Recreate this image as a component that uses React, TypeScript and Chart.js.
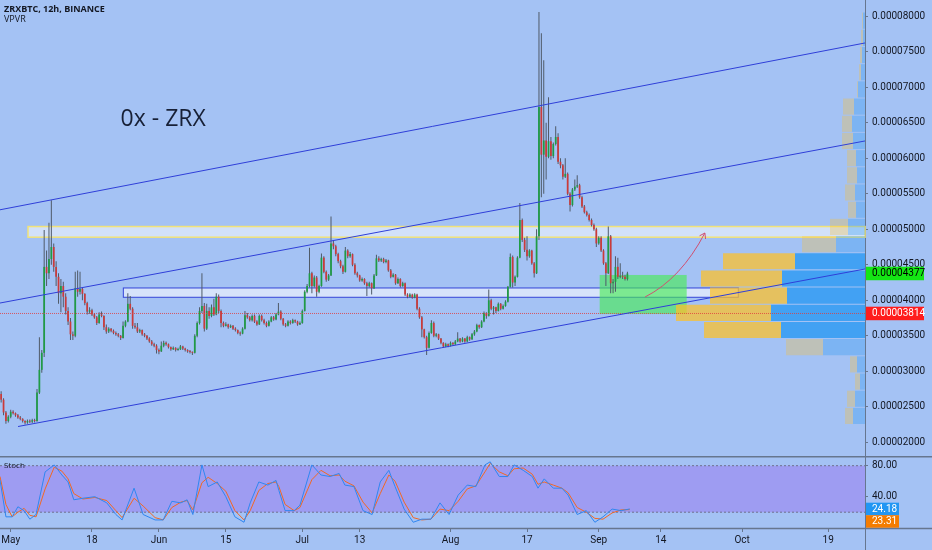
import { useEffect, useRef } from "react"
import Chart from "chart.js/auto"

const WIDTH = 932
const MAIN_H = 456
const STOCH_H = 94
const AXIS_W = 67
const BG = "#a4c2f4"
const TEXT = "#131722"
const AXIS_LINE = "#66768f"
const FONT = "Roboto, 'Open Sans', sans-serif"

// time axis in days counted from 1 May, one candle every 12h
const firstCandleDay = -2
const dayMin = -2.24
const dayMax = 178.7
const dayTicks = [0, 17, 31, 45, 61, 73, 92, 108, 123, 136, 153, 171]
const dayLabels = ["May", "18", "Jun", "15", "Jul", "13", "Aug", "17", "Sep", "14", "Oct", "19"]

// prices are in satoshi (1e-8 BTC)
const priceMin = 1807
const priceMax = 8228
const priceTicks = [2000, 2500, 3000, 3500, 4000, 4500, 5000, 5500, 6000, 6500, 7000, 7500, 8000]

// ZRXBTC 12h candles: [open, high, low, close]
const ohlc = [
  [2680, 2720, 2560, 2600], [2600, 2620, 2380, 2420], [2420, 2440, 2260, 2300], [2300, 2380, 2280, 2360], [2360, 2460, 2340, 2430],
  [2430, 2450, 2390, 2410], [2410, 2420, 2360, 2380], [2380, 2400, 2330, 2350], [2350, 2370, 2310, 2330], [2330, 2340, 2280, 2300],
  [2300, 2310, 2250, 2280], [2280, 2320, 2260, 2300], [2300, 2320, 2270, 2290], [2290, 2330, 2270, 2310], [2310, 2330, 2280, 2300],
  [2300, 2750, 2290, 2700], [2700, 3480, 2680, 3020], [3020, 3300, 2980, 3260], [3260, 4990, 3200, 4470], [4470, 4700, 4200, 4380],
  [4380, 5090, 4300, 4580], [4580, 5410, 4500, 4750], [4750, 4800, 4400, 4470], [4470, 4550, 4200, 4330], [4330, 4380, 3950, 4100],
  [4100, 4300, 3830, 4200], [4200, 4260, 3900, 4050], [4050, 4100, 3800, 3850], [3850, 3900, 3650, 3700], [3700, 3750, 3440, 3520],
  [3520, 3560, 3440, 3500], [3500, 4400, 3480, 4170], [4170, 4420, 4050, 4120], [4120, 4400, 4080, 4160], [4160, 4180, 4000, 4090],
  [4090, 4100, 3930, 3960], [3960, 3980, 3800, 3840], [3840, 3900, 3810, 3860], [3860, 3880, 3780, 3800], [3800, 3820, 3740, 3760],
  [3760, 3780, 3650, 3680], [3680, 3830, 3670, 3800], [3800, 3840, 3760, 3780], [3780, 3790, 3580, 3620], [3620, 3660, 3530, 3560],
  [3560, 3620, 3540, 3600], [3600, 3610, 3550, 3570], [3570, 3590, 3520, 3540], [3540, 3560, 3500, 3520], [3520, 3540, 3480, 3500],
  [3500, 3510, 3440, 3470], [3470, 3700, 3460, 3640], [3640, 3720, 3620, 3700], [3700, 4100, 3690, 3950], [3950, 4060, 3860, 3880],
  [3880, 3900, 3600, 3640], [3640, 3680, 3600, 3620], [3620, 3680, 3540, 3560], [3560, 3600, 3540, 3580], [3580, 3590, 3500, 3520],
  [3520, 3540, 3480, 3500], [3500, 3510, 3440, 3460], [3460, 3480, 3400, 3420], [3420, 3440, 3360, 3380], [3380, 3400, 3340, 3360],
  [3360, 3380, 3250, 3300], [3300, 3320, 3240, 3280], [3280, 3420, 3270, 3360], [3360, 3430, 3340, 3400], [3400, 3420, 3360, 3380],
  [3380, 3390, 3320, 3340], [3340, 3350, 3290, 3310], [3310, 3350, 3300, 3330], [3330, 3340, 3280, 3300], [3300, 3330, 3290, 3310],
  [3310, 3370, 3300, 3350], [3350, 3360, 3300, 3320], [3320, 3330, 3280, 3300], [3300, 3310, 3260, 3280], [3280, 3300, 3250, 3270],
  [3270, 3280, 3230, 3260], [3260, 3520, 3250, 3500], [3500, 3700, 3480, 3680], [3680, 3900, 3660, 3850], [3850, 4380, 3820, 3920],
  [3920, 3960, 3560, 3600], [3600, 3950, 3580, 3850], [3850, 3900, 3740, 3780], [3780, 3940, 3760, 3900], [3900, 4020, 3780, 3800],
  [3800, 4100, 3790, 4050], [4050, 4080, 3820, 3850], [3850, 3870, 3620, 3680], [3680, 3700, 3620, 3640], [3640, 3690, 3630, 3660],
  [3660, 3670, 3600, 3620], [3620, 3660, 3610, 3640], [3640, 3650, 3580, 3600], [3600, 3620, 3560, 3580], [3580, 3590, 3520, 3540],
  [3540, 3560, 3500, 3530], [3530, 3620, 3520, 3600], [3600, 3850, 3590, 3790], [3790, 3820, 3740, 3760], [3760, 3780, 3700, 3720],
  [3720, 3800, 3700, 3780], [3780, 3800, 3680, 3700], [3700, 3720, 3640, 3660], [3660, 3800, 3650, 3780], [3780, 3800, 3700, 3720],
  [3720, 3740, 3660, 3680], [3680, 3700, 3620, 3640], [3640, 3720, 3630, 3700], [3700, 3780, 3690, 3760], [3760, 3780, 3710, 3730],
  [3730, 3820, 3720, 3800], [3800, 3960, 3790, 3840], [3840, 3860, 3720, 3740], [3740, 3750, 3640, 3660], [3660, 3680, 3620, 3640],
  [3640, 3720, 3630, 3700], [3700, 3720, 3660, 3680], [3680, 3740, 3670, 3720], [3720, 3730, 3680, 3700], [3700, 3710, 3640, 3660],
  [3660, 3700, 3650, 3680], [3680, 3870, 3670, 3850], [3850, 4140, 3840, 4120], [4120, 4230, 4100, 4200], [4200, 4740, 4180, 4380],
  [4380, 4400, 4100, 4200], [4200, 4350, 4180, 4320], [4320, 4340, 4050, 4120], [4120, 4220, 4100, 4200], [4200, 4660, 4190, 4600],
  [4600, 4620, 4380, 4400], [4400, 4420, 4260, 4290], [4290, 4370, 4270, 4350], [4350, 5180, 4340, 4800], [4800, 4840, 4720, 4760],
  [4760, 4780, 4620, 4650], [4650, 4670, 4520, 4550], [4550, 4570, 4450, 4480], [4480, 4500, 4370, 4400], [4400, 4750, 4390, 4700],
  [4700, 4720, 4590, 4620], [4620, 4680, 4600, 4650], [4650, 4660, 4480, 4500], [4500, 4520, 4360, 4380], [4380, 4400, 4320, 4350],
  [4350, 4360, 4260, 4280], [4280, 4320, 4260, 4300], [4300, 4310, 4220, 4240], [4240, 4260, 4060, 4200], [4200, 4260, 4180, 4240],
  [4240, 4250, 4080, 4170], [4170, 4370, 4160, 4350], [4350, 4640, 4340, 4590], [4590, 4620, 4540, 4560], [4560, 4600, 4540, 4580],
  [4580, 4600, 4520, 4540], [4540, 4580, 4520, 4560], [4560, 4570, 4400, 4420], [4420, 4440, 4310, 4330], [4330, 4380, 4320, 4360],
  [4360, 4370, 4220, 4240], [4240, 4320, 4230, 4300], [4300, 4310, 4180, 4200], [4200, 4260, 4190, 4240], [4240, 4250, 4060, 4080],
  [4080, 4100, 4030, 4050], [4050, 4100, 4040, 4080], [4080, 4090, 4020, 4040], [4040, 4100, 4030, 4080], [4080, 4090, 3860, 3880],
  [3880, 3900, 3740, 3760], [3760, 3780, 3480, 3590], [3590, 3600, 3460, 3480], [3480, 3500, 3230, 3330], [3330, 3560, 3320, 3540],
  [3540, 3720, 3530, 3680], [3680, 3700, 3480, 3500], [3500, 3540, 3480, 3520], [3520, 3530, 3440, 3460], [3460, 3470, 3380, 3400],
  [3400, 3410, 3330, 3350], [3350, 3400, 3340, 3380], [3380, 3390, 3340, 3360], [3360, 3420, 3350, 3400], [3400, 3410, 3360, 3380],
  [3380, 3440, 3370, 3420], [3420, 3550, 3410, 3460], [3460, 3470, 3400, 3420], [3420, 3480, 3410, 3460], [3460, 3470, 3400, 3420],
  [3420, 3500, 3410, 3480], [3480, 3490, 3430, 3450], [3450, 3540, 3440, 3520], [3520, 3580, 3500, 3560], [3560, 3670, 3550, 3650],
  [3650, 3660, 3600, 3620], [3620, 3720, 3610, 3700], [3700, 3840, 3690, 3820], [3820, 3830, 3740, 3780], [3780, 4150, 3770, 4000],
  [4000, 4020, 3860, 3880], [3880, 3920, 3800, 3900], [3900, 3910, 3820, 3850], [3850, 3970, 3840, 3950], [3950, 3960, 3860, 3880],
  [3880, 3940, 3870, 3920], [3920, 4000, 3910, 3980], [3980, 4200, 3970, 4190], [4190, 4660, 4180, 4610], [4610, 4630, 4180, 4250],
  [4250, 4350, 4200, 4330], [4330, 4620, 4320, 4600], [4600, 5370, 4590, 5130], [5130, 5150, 4820, 4850], [4850, 4880, 4680, 4710],
  [4710, 4900, 4560, 4620], [4620, 4720, 4600, 4700], [4700, 4710, 4500, 4520], [4520, 4540, 4320, 4380], [4380, 5000, 4370, 4900],
  [4900, 8060, 4850, 6720], [6720, 7760, 5450, 6050], [6050, 7380, 5500, 6250], [6250, 6500, 5700, 6020], [6020, 6860, 6000, 6240],
  [6240, 6300, 5980, 6030], [6030, 6220, 6000, 6200], [6200, 6450, 6180, 6300], [6300, 6350, 5920, 5950], [5950, 6000, 5860, 5900],
  [5900, 5920, 5700, 5740], [5740, 6000, 5720, 5780], [5780, 5800, 5480, 5500], [5500, 5520, 5250, 5340], [5340, 5580, 5320, 5560],
  [5560, 5700, 5540, 5600], [5600, 5760, 5580, 5620], [5620, 5640, 5430, 5450], [5450, 5470, 5300, 5320], [5320, 5340, 5220, 5240],
  [5240, 5260, 5180, 5200], [5200, 5220, 5110, 5130], [5130, 5150, 5040, 5060], [5060, 5080, 4980, 5000], [5000, 5020, 4750, 4800],
  [4800, 4900, 4780, 4880], [4880, 4900, 4680, 4700], [4700, 4720, 4500, 4520], [4520, 4540, 4200, 4380], [4380, 5040, 4370, 4900],
  [4900, 4920, 4100, 4240], [4240, 4300, 4100, 4260], [4260, 4620, 4120, 4470], [4470, 4600, 4300, 4330], [4330, 4520, 4310, 4340],
  [4340, 4400, 4300, 4330], [4330, 4360, 4280, 4300], [4300, 4400, 4280, 4377],
]

const markPrice = 3814

// drawn channel: [day, price] end points
const channelUpper = [[-2.24, 5274], [178.7, 7623]]
const channelMiddle = [[-2.24, 3961], [178.7, 6243]]
const channelLower = [[1.53, 2222], [178.7, 4440]]

// drawn zones: [fromDay, toDay, lowPrice, highPrice]
const resistanceZone = [3.62, 178.7, 4888, 5038]
const supportZone = [23.56, 152.2, 4042, 4173]
const targetZone = [123.2, 141.4, 3806, 4356]

// curved arrow: start, bend, end as [day, price]
const arrowPath = [[132.7, 4046], [140.2, 4304], [145.2, 4947]]

// title note: [day, price]
const titleAt = [31.9, 6542]

// volume profile rows of 242 sat from 2250 upward
const vpLow = 2250
const vpStep = 242
const vpUp = [12, 10, 5, 8, 42, 84, 94, 78, 83, 70, 29, 17, 9, 10, 8, 9, 12, 13, 11, 7, 4, 3, 2, 2]
const vpDown = [8, 8, 5, 7, 37, 77, 95, 77, 81, 72, 34, 18, 8, 10, 10, 9, 11, 10, 11, 1, 2, 2, 2, 1]
const vpValueArea = [5, 9]

// stochastic
const stochDays = [
  -2.24, -1.0, 0.3, 1.5, 2.8, 4.0, 5.3, 7.2, 9.1, 10.7, 12.0, 13.2, 15.1, 17.6, 20.1, 22.0, 23.3, 25.8, 27.7, 30.2,
  31.9, 33.7, 35.6, 36.9, 38.1, 40.0, 41.3, 43.2, 45.0, 46.9, 48.8, 50.1, 51.9, 53.8, 55.5, 56.1, 57.4, 59.3, 60.5, 63.0,
  64.9, 66.8, 68.7, 69.9, 71.8, 73.7, 75.6, 77.3, 79.1, 80.4, 82.3, 84.2, 86.0, 87.9, 89.8, 91.7, 93.6, 95.5, 97.3, 99.2,
  100.3, 102.2, 104.0, 105.3, 107.2, 109.1, 110.3, 111.6, 113.5, 115.3, 116.6, 118.5, 120.4, 122.2, 123.9, 125.8, 127.7, 129.5,
]
const stochK = [
  61.5, 14, 14, 27, 22, 11, 17, 72, 81, 68, 59, 36, 38, 40, 32, 17, 10, 51, 17, 10,
  10, 34, 32, 36, 17, 81, 53, 59, 40, 14, 7, 32, 59, 55, 61, 48, 22, 22, 29, 81,
  68, 66, 70, 55, 53, 22, 17, 59, 74, 53, 24, 7, 11, 11, 32, 17, 42, 55, 53, 81,
  85, 66, 66, 81, 74, 66, 51, 63, 51, 51, 42, 17, 22, 7, 14, 24, 22, 24.18,
]
const stochD = [
  66, 30, 14, 20, 25, 16, 14, 50, 78, 73, 63, 44, 37, 39, 35, 22, 13, 38, 28, 13,
  10, 26, 33, 35, 23, 58, 65, 57, 47, 22, 10, 22, 48, 57, 59, 53, 30, 22, 26, 62,
  74, 67, 68, 60, 54, 33, 19, 44, 68, 60, 33, 13, 10, 11, 24, 22, 34, 50, 54, 72,
  83, 72, 67, 76, 77, 69, 56, 59, 55, 51, 45, 26, 20, 12, 11, 19, 23, 23.31,
]
const stochUpper = 80
const stochLower = 20
const stochMin = -0.4
const stochMax = 92.5
const stochTicks = [40, 80]

const sats = (v: number) => (v / 1e8).toFixed(8)

function tag(ctx: any, left: number, y: number, w: number, h: number, text: string, bg: string, fg: string) {
  ctx.fillStyle = bg
  ctx.fillRect(left, y - h / 2, w, h)
  ctx.fillStyle = fg
  ctx.font = `10px ${FONT}`
  ctx.textAlign = "left"
  ctx.textBaseline = "middle"
  ctx.fillText(text, left + 6, y + 0.5)
}

const zonesPlugin = {
  id: "zones",
  beforeDatasetsDraw(chart: any) {
    const { ctx, scales } = chart
    const { x, y } = scales
    const rect = (z: number[], fill: string, stroke: string, lw: number) => {
      const l = x.getPixelForValue(z[0])
      const r = x.getPixelForValue(z[1])
      const t = y.getPixelForValue(z[3])
      const b = y.getPixelForValue(z[2])
      ctx.save()
      ctx.fillStyle = fill
      ctx.fillRect(l, t, r - l, b - t)
      if (lw > 0) {
        ctx.strokeStyle = stroke
        ctx.lineWidth = lw
        ctx.strokeRect(l, t, r - l, b - t)
      }
      ctx.restore()
    }
    rect(resistanceZone, "rgba(255,255,255,0.5)", "#f1e37a", 1.5)
    rect(supportZone, "rgba(255,255,255,0.55)", "#3445d8", 1)
    rect(targetZone, "rgba(70,235,80,0.62)", "", 0)
  },
  afterDatasetsDraw(chart: any) {
    const { ctx, scales } = chart
    const { x, y } = scales
    const pts = arrowPath.map((p) => [x.getPixelForValue(p[0]), y.getPixelForValue(p[1])])
    ctx.save()
    ctx.strokeStyle = "#cf4f70"
    ctx.lineWidth = 1
    ctx.beginPath()
    ctx.moveTo(pts[0][0], pts[0][1])
    ctx.quadraticCurveTo(pts[1][0], pts[1][1], pts[2][0], pts[2][1])
    ctx.stroke()
    const ang = Math.atan2(pts[2][1] - pts[1][1], pts[2][0] - pts[1][0])
    ctx.beginPath()
    for (const s of [-1, 1]) {
      ctx.moveTo(pts[2][0], pts[2][1])
      ctx.lineTo(pts[2][0] - 6 * Math.cos(ang + s * 0.6), pts[2][1] - 6 * Math.sin(ang + s * 0.6))
    }
    ctx.stroke()

    ctx.fillStyle = "#172036"
    ctx.font = `23px 'Open Sans', sans-serif`
    ctx.textAlign = "center"
    ctx.textBaseline = "middle"
    ctx.fillText("0x - ZRX", x.getPixelForValue(titleAt[0]), y.getPixelForValue(titleAt[1]))
    ctx.restore()
  },
  afterDraw(chart: any) {
    const { ctx, scales, chartArea } = chart
    const y = scales.y
    const last = ohlc[ohlc.length - 1][3]
    ctx.save()
    tag(ctx, chartArea.right + 1, y.getPixelForValue(last), 58, 13.5, sats(last), "#14e614", "#000000")
    tag(ctx, chartArea.right + 1, y.getPixelForValue(markPrice), 58, 13.5, sats(markPrice), "#ff1c1c", "#ffffff")

    ctx.fillStyle = TEXT
    ctx.textAlign = "left"
    ctx.textBaseline = "middle"
    ctx.font = `bold 9px 'Open Sans', sans-serif`
    ctx.fillText("ZRXBTC, 12h, BINANCE", 4, 9.5)
    ctx.font = `9px 'Open Sans', sans-serif`
    ctx.fillText("VPVR", 4, 19.5)
    ctx.restore()
  },
}

const stochPlugin = {
  id: "stochDecor",
  afterDraw(chart: any) {
    const { ctx, scales, chartArea, width, height } = chart
    const y = scales.y
    ctx.save()
    ctx.strokeStyle = AXIS_LINE
    ctx.lineWidth = 1.5
    ctx.beginPath()
    ctx.moveTo(0, 0.75)
    ctx.lineTo(width, 0.75)
    ctx.moveTo(0, chartArea.bottom + 0.5)
    ctx.lineTo(width, chartArea.bottom + 0.5)
    ctx.stroke()
    ctx.lineWidth = 1
    ctx.beginPath()
    ctx.moveTo(chartArea.right + 0.5, 0)
    ctx.lineTo(chartArea.right + 0.5, height)
    ctx.stroke()

    const kVal = stochK[stochK.length - 1]
    const dVal = stochD[stochD.length - 1]
    const h = 12.5
    const ky = y.getPixelForValue(kVal)
    let dy = y.getPixelForValue(dVal)
    if (Math.abs(dy - ky) < h) dy = ky + h
    tag(ctx, chartArea.right + 1, ky, 33, h, kVal.toFixed(2), "#2196f3", "#ffffff")
    tag(ctx, chartArea.right + 1, dy, 33, h, dVal.toFixed(2), "#f57c00", "#ffffff")

    ctx.fillStyle = TEXT
    ctx.font = `8px 'Open Sans', sans-serif`
    ctx.textAlign = "left"
    ctx.textBaseline = "middle"
    ctx.fillText("Stoch", 4, 10)
    ctx.restore()
  },
}

export default function App() {
  const mainRef = useRef<HTMLCanvasElement>(null)
  const stochRef = useRef<HTMLCanvasElement>(null)

  useEffect(() => {
    if (!mainRef.current || !stochRef.current) return
    Chart.defaults.font.family = FONT

    const candleDays = ohlc.map((_, i) => firstCandleDay + i * 0.5)
    const rising = ohlc.map((c) => c[3] >= c[0])
    const vpCenters = vpUp.map((_, i) => vpLow + (i + 0.5) * vpStep)
    const inVA = (i: number) => i >= vpValueArea[0] && i <= vpValueArea[1]
    const line = (pts: number[][], color: string) => ({
      type: "line",
      data: pts.map((p) => ({ x: p[0], y: p[1] })),
      borderColor: color,
      borderWidth: 1,
      pointRadius: 0,
      xAxisID: "x",
      yAxisID: "y",
      order: 1,
    })
    const priceTickList = (s: any) => {
      s.ticks = priceTicks.map((v) => ({ value: v }))
    }
    const dayTickList = (s: any) => {
      s.ticks = dayTicks.map((v) => ({ value: v }))
    }

    const main = new Chart(mainRef.current, {
      type: "bar",
      data: {
        datasets: [
          {
            label: "vp up",
            indexAxis: "y",
            xAxisID: "xv",
            yAxisID: "yv",
            data: vpUp.map((u, i) => ({ y: vpCenters[i], x: [0, u] })),
            backgroundColor: vpUp.map((_, i) => (inVA(i) ? "rgba(33,150,243,0.75)" : "rgba(33,150,243,0.3)")),
            categoryPercentage: 1,
            barPercentage: 0.94,
            grouped: false,
            inflateAmount: 0,
            order: 10,
          },
          {
            label: "vp down",
            indexAxis: "y",
            xAxisID: "xv",
            yAxisID: "yv",
            data: vpUp.map((u, i) => ({ y: vpCenters[i], x: [u, u + vpDown[i]] })),
            backgroundColor: vpUp.map((_, i) => (inVA(i) ? "rgba(251,192,45,0.75)" : "rgba(251,192,45,0.3)")),
            categoryPercentage: 1,
            barPercentage: 0.94,
            grouped: false,
            inflateAmount: 0,
            order: 10,
          },
          {
            label: "wick",
            xAxisID: "x",
            yAxisID: "y",
            data: ohlc.map((c, i) => ({ x: candleDays[i], y: [c[2], c[1]] })),
            backgroundColor: "#4f5a68",
            barThickness: 1,
            grouped: false,
            inflateAmount: 0,
            order: 6,
          },
          {
            label: "body",
            xAxisID: "x",
            yAxisID: "y",
            data: ohlc.map((c, i) => ({ x: candleDays[i], y: [c[0], c[3]] })),
            backgroundColor: rising.map((r) => (r ? "#1f9c45" : "#cc3a3a")),
            categoryPercentage: 1,
            barPercentage: 0.72,
            minBarLength: 1,
            grouped: false,
            inflateAmount: 0,
            order: 5,
          },
          line(channelUpper, "#2f3fd8"),
          line(channelMiddle, "#2f3fd8"),
          line(channelLower, "#2f3fd8"),
          {
            ...line([[dayMin, markPrice], [dayMax, markPrice]], "rgba(225,60,60,0.8)"),
            borderDash: [1, 1],
            order: 2,
          },
        ] as any,
      },
      options: {
        animation: false,
        responsive: false,
        events: [],
        layout: { padding: 0 },
        plugins: { legend: { display: false }, tooltip: { enabled: false } },
        scales: {
          x: {
            type: "linear",
            display: false,
            min: dayMin,
            max: dayMax,
            offset: false,
            afterBuildTicks: dayTickList,
          },
          y: {
            type: "linear",
            position: "right",
            min: priceMin,
            max: priceMax,
            offset: false,
            beginAtZero: false,
            afterBuildTicks: priceTickList,
            ticks: {
              color: TEXT,
              padding: 4,
              font: { family: FONT, size: 10 },
              callback: (v: any) => sats(Number(v)),
            },
            grid: { drawOnChartArea: false, drawTicks: true, tickLength: 3, color: AXIS_LINE },
            border: { display: true, color: AXIS_LINE },
            afterFit: (s: any) => {
              s.width = AXIS_W
              s.paddingTop = 0
              s.paddingBottom = 0
            },
          },
          xv: {
            type: "linear",
            display: false,
            min: 0,
            max: WIDTH - AXIS_W,
            reverse: true,
            offset: false,
            beginAtZero: false,
          },
          yv: {
            type: "linear",
            display: false,
            min: priceMin,
            max: priceMax,
            offset: false,
            beginAtZero: false,
            afterBuildTicks: priceTickList,
          },
        },
      } as any,
      plugins: [zonesPlugin],
    })

    const stoch = new Chart(stochRef.current, {
      type: "line",
      data: {
        datasets: [
          {
            data: [{ x: dayMin, y: stochUpper }, { x: dayMax, y: stochUpper }],
            borderColor: "rgba(105,105,130,0.9)",
            borderDash: [2, 2],
            borderWidth: 1,
            pointRadius: 0,
            fill: "+1",
            backgroundColor: "rgba(150,110,240,0.45)",
            order: 4,
          },
          {
            data: [{ x: dayMin, y: stochLower }, { x: dayMax, y: stochLower }],
            borderColor: "rgba(105,105,130,0.9)",
            borderDash: [2, 2],
            borderWidth: 1,
            pointRadius: 0,
            fill: false,
            order: 3,
          },
          {
            data: stochDays.map((d, i) => ({ x: d, y: stochD[i] })),
            borderColor: "#f26722",
            borderWidth: 1,
            pointRadius: 0,
            fill: false,
            order: 2,
          },
          {
            data: stochDays.map((d, i) => ({ x: d, y: stochK[i] })),
            borderColor: "#2f86f0",
            borderWidth: 1,
            pointRadius: 0,
            fill: false,
            order: 1,
          },
        ],
      },
      options: {
        animation: false,
        responsive: false,
        events: [],
        layout: { padding: 0 },
        plugins: { legend: { display: false }, tooltip: { enabled: false } },
        scales: {
          x: {
            type: "linear",
            min: dayMin,
            max: dayMax,
            offset: false,
            afterBuildTicks: dayTickList,
            ticks: {
              autoSkip: false,
              maxRotation: 0,
              padding: 2,
              color: TEXT,
              font: { family: FONT, size: 10 },
              callback: (v: any) => dayLabels[dayTicks.indexOf(Number(v))] ?? "",
            },
            grid: { drawOnChartArea: false, drawTicks: true, tickLength: 4, color: AXIS_LINE },
            border: { display: true, color: AXIS_LINE },
            afterFit: (s: any) => {
              s.height = 22
              s.paddingLeft = 0
              s.paddingRight = 0
            },
          },
          y: {
            type: "linear",
            position: "right",
            min: stochMin,
            max: stochMax,
            offset: false,
            afterBuildTicks: (s: any) => {
              s.ticks = stochTicks.map((v) => ({ value: v }))
            },
            ticks: {
              color: TEXT,
              padding: 4,
              font: { family: FONT, size: 10 },
              callback: (v: any) => Number(v).toFixed(2),
            },
            grid: { drawOnChartArea: false, drawTicks: true, tickLength: 3, color: AXIS_LINE },
            border: { display: true, color: AXIS_LINE },
            afterFit: (s: any) => {
              s.width = AXIS_W
              s.paddingTop = 0
              s.paddingBottom = 0
            },
          },
        },
      } as any,
      plugins: [stochPlugin],
    })

    return () => {
      main.destroy()
      stoch.destroy()
    }
  }, [])

  return (
    <div style={{ position: "fixed", left: 0, top: 0, width: WIDTH, height: MAIN_H + STOCH_H, background: BG }}>
      <canvas ref={mainRef} width={WIDTH} height={MAIN_H} style={{ display: "block" }} />
      <canvas ref={stochRef} width={WIDTH} height={STOCH_H} style={{ display: "block" }} />
    </div>
  )
}
